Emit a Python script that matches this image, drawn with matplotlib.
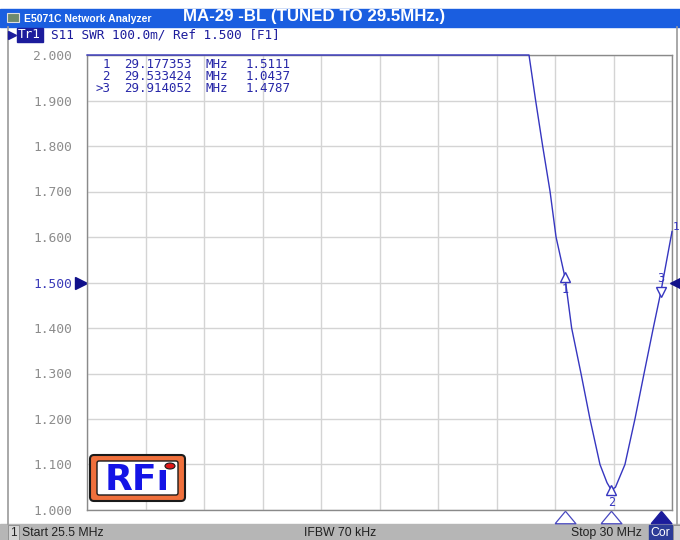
import numpy as np
import matplotlib
matplotlib.use("Agg")
import matplotlib.pyplot as plt
from matplotlib.patches import Rectangle, FancyBboxPatch, Ellipse
from matplotlib.path import Path

# ── Data ──────────────────────────────────────────────────────────────────────
FREQ_MHZ = [25.5, 28.90, 28.951, 29.005, 29.062, 29.108, 29.177, 29.228, 29.30,
            29.369, 29.446, 29.50, 29.533, 29.565, 29.638, 29.715, 29.785,
            29.856, 29.914, 30.0]
SWR      = [2.0, 2.0, 1.90, 1.80, 1.70, 1.60, 1.511, 1.40, 1.30,
            1.20, 1.10, 1.06, 1.044, 1.05, 1.10, 1.20, 1.30,
            1.40, 1.479, 1.612]

MARKER_ID   = ["1", "2", ">3"]
MARKER_FREQ = [29.177353, 29.533424, 29.914052]
MARKER_SWR  = [1.5111, 1.0437, 1.4787]

Y_TICKS = [1.0, 1.1, 1.2, 1.3, 1.4, 1.5, 1.6, 1.7, 1.8, 1.9, 2.0]
START, STOP, REF = 25.5, 30.0, 1.5

W, H = 680, 540
NAVY  = "#1c1c9c"
TRACE = "#3636c0"
MONO  = "DejaVu Sans Mono"

fig = plt.figure(figsize=(W / 100, H / 100), dpi=100, facecolor="white")

# pixel-space background layer
bg = fig.add_axes([0, 0, 1, 1], zorder=0)
bg.set_xlim(0, W); bg.set_ylim(H, 0); bg.axis("off")

# title bar
bg.add_patch(Rectangle((0, 9), W, 18, color="#1a5ee0"))
bg.add_patch(Rectangle((7, 13), 12, 9, facecolor="#6e8a6e", edgecolor="#dddddd", lw=0.8))
bg.text(24, 18.5, "E5071C Network Analyzer", color="white", fontsize=7.5,
        fontweight="bold", va="center", family="Liberation Sans")
bg.text(314, 17, "MA-29 -BL (TUNED TO 29.5MHz.)", color="white", fontsize=12.2,
        fontweight="bold", va="center", ha="center", family="Liberation Sans")

# window borders
bg.plot([8, 8], [27, 524], color="#9a9a9a", lw=1.2)
bg.plot([677, 677], [27, 524], color="#9a9a9a", lw=1.2)

# channel header
bg.plot([12], [35], marker=">", color=NAVY, ms=6)
bg.add_patch(Rectangle((17, 28), 26, 14, color=NAVY))
bg.text(18, 35, "Tr1", color="white", fontsize=9.2, va="center", family=MONO)
bg.text(51, 35, "S11 SWR 100.0m/ Ref 1.500 [F1]", color=NAVY, fontsize=9.2,
        va="center", family=MONO)

# status bar
bg.add_patch(Rectangle((0, 524), W, 16, color="#b6b6b6"))
bg.add_patch(Rectangle((8, 525), 11, 15, facecolor="#d4d4d4", edgecolor="#8a8a8a", lw=0.6))
bg.text(13.5, 533, "1", fontsize=8.5, ha="center", va="center", color="#202020",
        family="Liberation Sans")
bg.text(22, 533, f"Start {START:g} MHz", fontsize=8.8, va="center", color="#202020",
        family="Liberation Sans")
bg.text(340, 533, "IFBW 70 kHz", fontsize=8.8, va="center", ha="center",
        color="#202020", family="Liberation Sans")
bg.text(642, 533, f"Stop {STOP:g} MHz", fontsize=8.8, va="center", ha="right",
        color="#202020", family="Liberation Sans")
bg.add_patch(Rectangle((649, 525), 23, 15, color="#2c3c98"))
bg.text(660.5, 533, "Cor", fontsize=8.8, va="center", ha="center", color="white",
        family="Liberation Sans")
bg.add_patch(Rectangle((673, 525), 7, 15, facecolor="#d4d4d4", edgecolor="#8a8a8a", lw=0.6))

# ── Trace plot ────────────────────────────────────────────────────────────────
x0, x1, y0, y1 = 87, 672, 55, 510
ax = fig.add_axes([x0 / W, (H - y1) / H, (x1 - x0) / W, (y1 - y0) / H], zorder=1)
ax.set_facecolor("white")
ax.set_xlim(START, STOP)
ax.set_ylim(1.0, 2.0)
ax.set_xticks(np.linspace(START, STOP, 11))
ax.set_yticks(Y_TICKS)
ax.set_xticklabels([])
ax.set_yticklabels([f"{v:.3f}" for v in Y_TICKS], family=MONO, fontsize=9.3,
                   color="#8c8c8c")
for lbl, v in zip(ax.get_yticklabels(), Y_TICKS):
    if abs(v - REF) < 1e-9:
        lbl.set_color("#3a3ab8")
ax.tick_params(length=0, pad=11)
ax.grid(True, color="#d4d4d4", lw=1.0)
for s in ax.spines.values():
    s.set_color("#8a8a8a")
    s.set_linewidth(1.0)

ax.plot(FREQ_MHZ, SWR, color=TRACE, lw=1.0, clip_on=False, zorder=3)

# reference level pointers
ax.plot([-0.011], [REF], marker=">", ms=9, color="#10108a",
        transform=ax.get_yaxis_transform(), clip_on=False)
ax.plot([1.007], [REF], marker="<", ms=8, color="#10108a",
        transform=ax.get_yaxis_transform(), clip_on=False, zorder=5)

# markers on trace
for mid, f, v in zip(MARKER_ID, MARKER_FREQ, MARKER_SWR):
    num = mid.strip(">")
    if mid.startswith(">"):
        ax.plot(f, v, marker="v", ms=7, mfc="white", mec=TRACE, mew=1.0, zorder=4)
        ax.annotate(num, (f, v), xytext=(0, 10), textcoords="offset points",
                    ha="center", va="center", color=TRACE, fontsize=8.5, family=MONO)
    else:
        ax.plot(f, v, marker="^", ms=7, mfc="white", mec=TRACE, mew=1.0, zorder=4,
                clip_on=False)
        ax.annotate(num, (f, v), xytext=(0, -9), textcoords="offset points",
                    ha="center", va="center", color=TRACE, fontsize=8.5, family=MONO,
                    annotation_clip=False)
ax.annotate("1", (FREQ_MHZ[-1], SWR[-1]), xytext=(0.5, 3), textcoords="offset points",
            ha="left", va="center", color=TRACE, fontsize=8, family=MONO,
            annotation_clip=False)

# marker position indicators under the grid
flat = Path([(-1, -0.6), (1, -0.6), (0, 0.6), (-1, -0.6)])
for mid, f in zip(MARKER_ID, MARKER_FREQ):
    active = mid.startswith(">")
    ax.plot(f, -0.016, marker=flat, ms=15, mfc=NAVY if active else "white",
            mec=NAVY if active else "#4848c0", mew=0.9,
            transform=ax.get_xaxis_transform(), clip_on=False)

# ── Foreground: marker table and logo ─────────────────────────────────────────
fg = fig.add_axes([0, 0, 1, 1], zorder=2)
fg.set_xlim(0, W); fg.set_ylim(H, 0); fg.axis("off")

for i, (mid, f, v) in enumerate(zip(MARKER_ID, MARKER_FREQ, MARKER_SWR)):
    yy = 65 + 12 * i
    kw = dict(color="#2828a8", fontsize=9, va="center", family=MONO)
    fg.text(110, yy, mid, ha="right", **kw)
    fg.text(124, yy, f"{f:.6f}", ha="left", **kw)
    fg.text(205, yy, "MHz", ha="left", **kw)
    fg.text(246, yy, f"{v:.4f}", ha="left", **kw)

fg.add_patch(FancyBboxPatch((90, 455), 95, 46, boxstyle="round,pad=0,rounding_size=4",
                            facecolor="#f0703c", edgecolor="#1a1a1a", lw=1.5))
fg.add_patch(FancyBboxPatch((97, 461), 81, 34, boxstyle="round,pad=0,rounding_size=2",
                            facecolor="white", edgecolor="#1a1a1a", lw=1.0))
fg.text(137, 480, "RFı", color="#1414e6", fontsize=26, fontweight="heavy",
        ha="center", va="center", family="DejaVu Sans")
fg.add_patch(Ellipse((170, 466), 10, 6, facecolor="#e01818", edgecolor="#1a1a1a", lw=0.8))

fig.savefig("out.png", dpi=100, facecolor="white")
